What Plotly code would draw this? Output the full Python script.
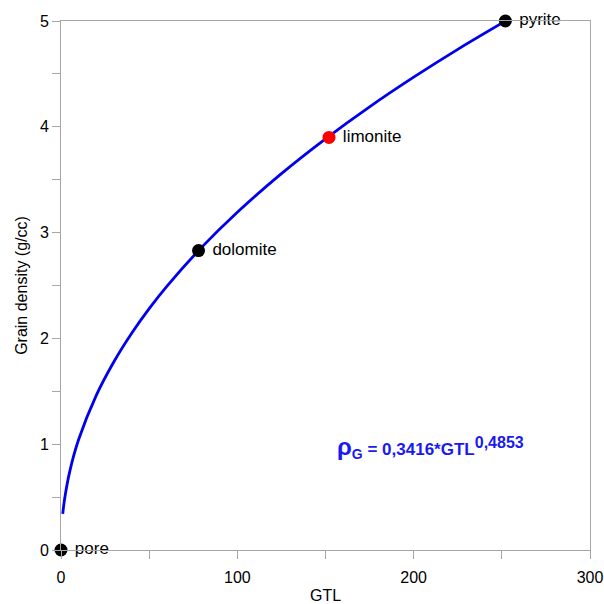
import plotly.graph_objects as go

# Fitted curve (GTL, grain density)
curve_gtl = [1, 2, 5, 10, 20, 30, 40, 50, 60, 80, 100, 125, 150, 175, 200, 225, 252]
curve_rho = [0.342, 0.478, 0.746, 1.044, 1.462, 1.780, 2.047, 2.281, 2.492, 2.865,
             3.193, 3.558, 3.887, 4.189, 4.469, 4.732, 4.999]

# Minerals
minerals = ["pore", "dolomite", "limonite", "pyrite"]
mineral_gtl = [0, 78, 152, 252]
mineral_rho = [0.0, 2.83, 3.90, 5.0]
mineral_colors = ["black", "black", "red", "black"]

x_ticks = [0, 100, 200, 300]
y_ticks = [0, 1, 2, 3, 4, 5]

font = "Liberation Sans, Arial, sans-serif"
axis_color = "#a6a6a6"

fig = go.Figure()
fig.add_trace(go.Scatter(x=curve_gtl, y=curve_rho, mode="lines",
                         line=dict(color="#0000ee", width=2.8, shape="spline"),
                         hoverinfo="skip", showlegend=False))
fig.add_trace(go.Scatter(x=mineral_gtl, y=mineral_rho, mode="markers+text",
                         marker=dict(color=mineral_colors, size=13),
                         text=[" " + m for m in minerals], textposition="middle right",
                         textfont=dict(family=font, size=17, color="black"),
                         cliponaxis=False, showlegend=False))

fig.add_annotation(x=0.698, y=0.193, xref="paper", yref="paper", showarrow=False,
                   xanchor="center", yanchor="middle",
                   text=("<b><span style='font-size:24px'>ρ</span><sub><span style='font-size:14px'>G</span></sub>"
                         " = 0,3416*GTL<sup><span style='font-size:16px'>0,4853</span></sup></b>"),
                   font=dict(family=font, size=17, color="#1a1aee"))

common = dict(showline=True, linecolor=axis_color, linewidth=1, mirror=True,
              ticks="outside", ticklen=8, tickcolor=axis_color, showgrid=False,
              zeroline=False, automargin=False,
              tickfont=dict(family=font, size=16, color="black"),
              title_font=dict(family=font, size=16, color="black"))

fig.update_xaxes(range=[0, 300], tickvals=x_ticks, ticklabelstandoff=5,
                 minor=dict(ticks="outside", ticklen=8, tickcolor=axis_color, dtick=50, tick0=0),
                 title_text="GTL", title_standoff=7, **common)
fig.update_yaxes(range=[0, 5], tickvals=y_ticks,
                 minor=dict(ticks="outside", ticklen=8, tickcolor=axis_color, dtick=0.5, tick0=0),
                 title_text="Grain density (g/cc)", title_standoff=8, **common)

fig.update_layout(width=604, height=604, margin=dict(l=61, r=14, t=21, b=54),
                  plot_bgcolor="white", paper_bgcolor="white",
                  font=dict(family=font))

fig.write_html("out.html")
